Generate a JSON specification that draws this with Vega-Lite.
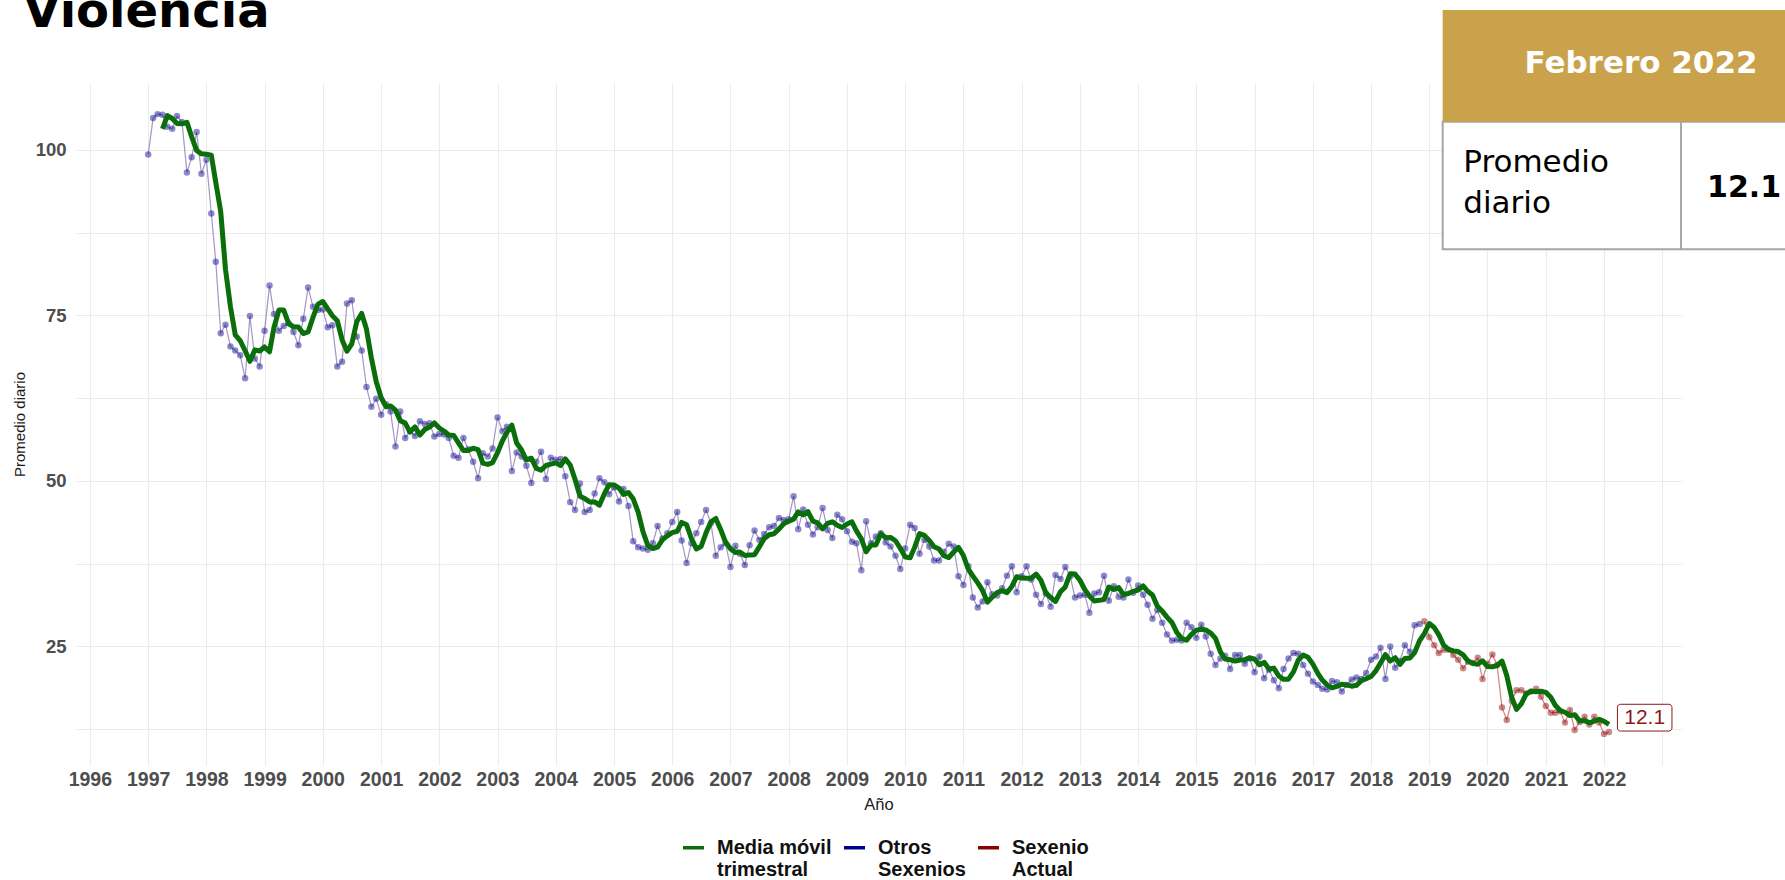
{
"$schema": "https://vega.github.io/schema/vega-lite/v6.json",
"width": 1607, "height": 682,
"autosize": {"type": "none"},
"padding": {"left": 75, "top": 83, "right": 103, "bottom": 115},
"background": "white",
"config": {"view": {"stroke": null}, "font": "Liberation Sans"},
"data": {"values": [
{"fecha":"1997-01-01","valor":99.3,"grupo":"Otros Sexenios"},{"fecha":"1997-02-01","valor":104.8,"grupo":"Otros Sexenios"},{"fecha":"1997-03-01","valor":105.4,"grupo":"Otros Sexenios"},{"fecha":"1997-04-01","valor":105.3,"grupo":"Otros Sexenios"},{"fecha":"1997-05-01","valor":103.5,"grupo":"Otros Sexenios"},{"fecha":"1997-06-01","valor":103.2,"grupo":"Otros Sexenios"},{"fecha":"1997-07-01","valor":105.1,"grupo":"Otros Sexenios"},{"fecha":"1997-08-01","valor":104.2,"grupo":"Otros Sexenios"},{"fecha":"1997-09-01","valor":96.6,"grupo":"Otros Sexenios"},{"fecha":"1997-10-01","valor":98.9,"grupo":"Otros Sexenios"},{"fecha":"1997-11-01","valor":102.7,"grupo":"Otros Sexenios"},{"fecha":"1997-12-01","valor":96.4,"grupo":"Otros Sexenios"},
{"fecha":"1998-01-01","valor":98.5,"grupo":"Otros Sexenios"},{"fecha":"1998-02-01","valor":90.4,"grupo":"Otros Sexenios"},{"fecha":"1998-03-01","valor":83.1,"grupo":"Otros Sexenios"},{"fecha":"1998-04-01","valor":72.3,"grupo":"Otros Sexenios"},{"fecha":"1998-05-01","valor":73.6,"grupo":"Otros Sexenios"},{"fecha":"1998-06-01","valor":70.3,"grupo":"Otros Sexenios"},{"fecha":"1998-07-01","valor":69.7,"grupo":"Otros Sexenios"},{"fecha":"1998-08-01","valor":69.0,"grupo":"Otros Sexenios"},{"fecha":"1998-09-01","valor":65.5,"grupo":"Otros Sexenios"},{"fecha":"1998-10-01","valor":74.9,"grupo":"Otros Sexenios"},{"fecha":"1998-11-01","valor":68.5,"grupo":"Otros Sexenios"},{"fecha":"1998-12-01","valor":67.3,"grupo":"Otros Sexenios"},
{"fecha":"1999-01-01","valor":72.7,"grupo":"Otros Sexenios"},{"fecha":"1999-02-01","valor":79.5,"grupo":"Otros Sexenios"},{"fecha":"1999-03-01","valor":75.2,"grupo":"Otros Sexenios"},{"fecha":"1999-04-01","valor":72.7,"grupo":"Otros Sexenios"},{"fecha":"1999-05-01","valor":73.4,"grupo":"Otros Sexenios"},{"fecha":"1999-06-01","valor":73.8,"grupo":"Otros Sexenios"},{"fecha":"1999-07-01","valor":72.5,"grupo":"Otros Sexenios"},{"fecha":"1999-08-01","valor":70.5,"grupo":"Otros Sexenios"},{"fecha":"1999-09-01","valor":74.5,"grupo":"Otros Sexenios"},{"fecha":"1999-10-01","valor":79.2,"grupo":"Otros Sexenios"},{"fecha":"1999-11-01","valor":76.3,"grupo":"Otros Sexenios"},{"fecha":"1999-12-01","valor":75.8,"grupo":"Otros Sexenios"},
{"fecha":"2000-01-01","valor":75.9,"grupo":"Otros Sexenios"},{"fecha":"2000-02-01","valor":73.2,"grupo":"Otros Sexenios"},{"fecha":"2000-03-01","valor":73.5,"grupo":"Otros Sexenios"},{"fecha":"2000-04-01","valor":67.3,"grupo":"Otros Sexenios"},{"fecha":"2000-05-01","valor":68.0,"grupo":"Otros Sexenios"},{"fecha":"2000-06-01","valor":76.8,"grupo":"Otros Sexenios"},{"fecha":"2000-07-01","valor":77.3,"grupo":"Otros Sexenios"},{"fecha":"2000-08-01","valor":71.8,"grupo":"Otros Sexenios"},{"fecha":"2000-09-01","valor":69.7,"grupo":"Otros Sexenios"},{"fecha":"2000-10-01","valor":64.2,"grupo":"Otros Sexenios"},{"fecha":"2000-11-01","valor":61.2,"grupo":"Otros Sexenios"},{"fecha":"2000-12-01","valor":62.4,"grupo":"Otros Sexenios"},
{"fecha":"2001-01-01","valor":60.0,"grupo":"Otros Sexenios"},{"fecha":"2001-02-01","valor":61.6,"grupo":"Otros Sexenios"},{"fecha":"2001-03-01","valor":60.5,"grupo":"Otros Sexenios"},{"fecha":"2001-04-01","valor":55.2,"grupo":"Otros Sexenios"},{"fecha":"2001-05-01","valor":60.5,"grupo":"Otros Sexenios"},{"fecha":"2001-06-01","valor":56.5,"grupo":"Otros Sexenios"},{"fecha":"2001-07-01","valor":57.5,"grupo":"Otros Sexenios"},{"fecha":"2001-08-01","valor":56.8,"grupo":"Otros Sexenios"},{"fecha":"2001-09-01","valor":59.0,"grupo":"Otros Sexenios"},{"fecha":"2001-10-01","valor":58.6,"grupo":"Otros Sexenios"},{"fecha":"2001-11-01","valor":58.7,"grupo":"Otros Sexenios"},{"fecha":"2001-12-01","valor":56.7,"grupo":"Otros Sexenios"},
{"fecha":"2002-01-01","valor":57.1,"grupo":"Otros Sexenios"},{"fecha":"2002-02-01","valor":57.0,"grupo":"Otros Sexenios"},{"fecha":"2002-03-01","valor":56.5,"grupo":"Otros Sexenios"},{"fecha":"2002-04-01","valor":53.8,"grupo":"Otros Sexenios"},{"fecha":"2002-05-01","valor":53.5,"grupo":"Otros Sexenios"},{"fecha":"2002-06-01","valor":56.5,"grupo":"Otros Sexenios"},{"fecha":"2002-07-01","valor":54.8,"grupo":"Otros Sexenios"},{"fecha":"2002-08-01","valor":52.9,"grupo":"Otros Sexenios"},{"fecha":"2002-09-01","valor":50.4,"grupo":"Otros Sexenios"},{"fecha":"2002-10-01","valor":54.2,"grupo":"Otros Sexenios"},{"fecha":"2002-11-01","valor":53.7,"grupo":"Otros Sexenios"},{"fecha":"2002-12-01","valor":54.9,"grupo":"Otros Sexenios"},
{"fecha":"2003-01-01","valor":59.6,"grupo":"Otros Sexenios"},{"fecha":"2003-02-01","valor":57.5,"grupo":"Otros Sexenios"},{"fecha":"2003-03-01","valor":58.2,"grupo":"Otros Sexenios"},{"fecha":"2003-04-01","valor":51.5,"grupo":"Otros Sexenios"},{"fecha":"2003-05-01","valor":54.3,"grupo":"Otros Sexenios"},{"fecha":"2003-06-01","valor":53.7,"grupo":"Otros Sexenios"},{"fecha":"2003-07-01","valor":52.3,"grupo":"Otros Sexenios"},{"fecha":"2003-08-01","valor":49.7,"grupo":"Otros Sexenios"},{"fecha":"2003-09-01","valor":52.9,"grupo":"Otros Sexenios"},{"fecha":"2003-10-01","valor":54.4,"grupo":"Otros Sexenios"},{"fecha":"2003-11-01","valor":50.3,"grupo":"Otros Sexenios"},{"fecha":"2003-12-01","valor":53.5,"grupo":"Otros Sexenios"},
{"fecha":"2004-01-01","valor":53.2,"grupo":"Otros Sexenios"},{"fecha":"2004-02-01","valor":53.3,"grupo":"Otros Sexenios"},{"fecha":"2004-03-01","valor":50.7,"grupo":"Otros Sexenios"},{"fecha":"2004-04-01","valor":46.8,"grupo":"Otros Sexenios"},{"fecha":"2004-05-01","valor":45.6,"grupo":"Otros Sexenios"},{"fecha":"2004-06-01","valor":49.6,"grupo":"Otros Sexenios"},{"fecha":"2004-07-01","valor":45.3,"grupo":"Otros Sexenios"},{"fecha":"2004-08-01","valor":45.6,"grupo":"Otros Sexenios"},{"fecha":"2004-09-01","valor":48.1,"grupo":"Otros Sexenios"},{"fecha":"2004-10-01","valor":50.4,"grupo":"Otros Sexenios"},{"fecha":"2004-11-01","valor":49.8,"grupo":"Otros Sexenios"},{"fecha":"2004-12-01","valor":48.0,"grupo":"Otros Sexenios"},
{"fecha":"2005-01-01","valor":49.0,"grupo":"Otros Sexenios"},{"fecha":"2005-02-01","valor":46.9,"grupo":"Otros Sexenios"},{"fecha":"2005-03-01","valor":48.8,"grupo":"Otros Sexenios"},{"fecha":"2005-04-01","valor":46.2,"grupo":"Otros Sexenios"},{"fecha":"2005-05-01","valor":40.9,"grupo":"Otros Sexenios"},{"fecha":"2005-06-01","valor":40.0,"grupo":"Otros Sexenios"},{"fecha":"2005-07-01","valor":39.8,"grupo":"Otros Sexenios"},{"fecha":"2005-08-01","valor":39.6,"grupo":"Otros Sexenios"},{"fecha":"2005-09-01","valor":40.6,"grupo":"Otros Sexenios"},{"fecha":"2005-10-01","valor":43.2,"grupo":"Otros Sexenios"},{"fecha":"2005-11-01","valor":41.3,"grupo":"Otros Sexenios"},{"fecha":"2005-12-01","valor":42.1,"grupo":"Otros Sexenios"},
{"fecha":"2006-01-01","valor":43.8,"grupo":"Otros Sexenios"},{"fecha":"2006-02-01","valor":45.3,"grupo":"Otros Sexenios"},{"fecha":"2006-03-01","valor":41.0,"grupo":"Otros Sexenios"},{"fecha":"2006-04-01","valor":37.6,"grupo":"Otros Sexenios"},{"fecha":"2006-05-01","valor":40.6,"grupo":"Otros Sexenios"},{"fecha":"2006-06-01","valor":42.1,"grupo":"Otros Sexenios"},{"fecha":"2006-07-01","valor":43.8,"grupo":"Otros Sexenios"},{"fecha":"2006-08-01","valor":45.6,"grupo":"Otros Sexenios"},{"fecha":"2006-09-01","valor":43.6,"grupo":"Otros Sexenios"},{"fecha":"2006-10-01","valor":38.7,"grupo":"Otros Sexenios"},{"fecha":"2006-11-01","valor":40.0,"grupo":"Otros Sexenios"},{"fecha":"2006-12-01","valor":40.6,"grupo":"Otros Sexenios"},
{"fecha":"2007-01-01","valor":37.0,"grupo":"Otros Sexenios"},{"fecha":"2007-02-01","valor":40.2,"grupo":"Otros Sexenios"},{"fecha":"2007-03-01","valor":39.0,"grupo":"Otros Sexenios"},{"fecha":"2007-04-01","valor":37.3,"grupo":"Otros Sexenios"},{"fecha":"2007-05-01","valor":40.3,"grupo":"Otros Sexenios"},{"fecha":"2007-06-01","valor":42.5,"grupo":"Otros Sexenios"},{"fecha":"2007-07-01","valor":41.1,"grupo":"Otros Sexenios"},{"fecha":"2007-08-01","valor":42.0,"grupo":"Otros Sexenios"},{"fecha":"2007-09-01","valor":43.0,"grupo":"Otros Sexenios"},{"fecha":"2007-10-01","valor":43.2,"grupo":"Otros Sexenios"},{"fecha":"2007-11-01","valor":44.4,"grupo":"Otros Sexenios"},{"fecha":"2007-12-01","valor":44.1,"grupo":"Otros Sexenios"},
{"fecha":"2008-01-01","valor":44.2,"grupo":"Otros Sexenios"},{"fecha":"2008-02-01","valor":47.7,"grupo":"Otros Sexenios"},{"fecha":"2008-03-01","valor":42.7,"grupo":"Otros Sexenios"},{"fecha":"2008-04-01","valor":45.7,"grupo":"Otros Sexenios"},{"fecha":"2008-05-01","valor":43.4,"grupo":"Otros Sexenios"},{"fecha":"2008-06-01","valor":41.9,"grupo":"Otros Sexenios"},{"fecha":"2008-07-01","valor":43.0,"grupo":"Otros Sexenios"},{"fecha":"2008-08-01","valor":45.9,"grupo":"Otros Sexenios"},{"fecha":"2008-09-01","valor":42.6,"grupo":"Otros Sexenios"},{"fecha":"2008-10-01","valor":41.4,"grupo":"Otros Sexenios"},{"fecha":"2008-11-01","valor":44.9,"grupo":"Otros Sexenios"},{"fecha":"2008-12-01","valor":44.2,"grupo":"Otros Sexenios"},
{"fecha":"2009-01-01","valor":42.4,"grupo":"Otros Sexenios"},{"fecha":"2009-02-01","valor":40.8,"grupo":"Otros Sexenios"},{"fecha":"2009-03-01","valor":40.6,"grupo":"Otros Sexenios"},{"fecha":"2009-04-01","valor":36.5,"grupo":"Otros Sexenios"},{"fecha":"2009-05-01","valor":43.9,"grupo":"Otros Sexenios"},{"fecha":"2009-06-01","valor":40.6,"grupo":"Otros Sexenios"},{"fecha":"2009-07-01","valor":41.6,"grupo":"Otros Sexenios"},{"fecha":"2009-08-01","valor":42.1,"grupo":"Otros Sexenios"},{"fecha":"2009-09-01","valor":40.7,"grupo":"Otros Sexenios"},{"fecha":"2009-10-01","valor":40.1,"grupo":"Otros Sexenios"},{"fecha":"2009-11-01","valor":38.7,"grupo":"Otros Sexenios"},{"fecha":"2009-12-01","valor":36.7,"grupo":"Otros Sexenios"},
{"fecha":"2010-01-01","valor":39.8,"grupo":"Otros Sexenios"},{"fecha":"2010-02-01","valor":43.4,"grupo":"Otros Sexenios"},{"fecha":"2010-03-01","valor":42.9,"grupo":"Otros Sexenios"},{"fecha":"2010-04-01","valor":39.0,"grupo":"Otros Sexenios"},{"fecha":"2010-05-01","valor":41.1,"grupo":"Otros Sexenios"},{"fecha":"2010-06-01","valor":40.1,"grupo":"Otros Sexenios"},{"fecha":"2010-07-01","valor":38.0,"grupo":"Otros Sexenios"},{"fecha":"2010-08-01","valor":38.0,"grupo":"Otros Sexenios"},{"fecha":"2010-09-01","valor":39.3,"grupo":"Otros Sexenios"},{"fecha":"2010-10-01","valor":40.5,"grupo":"Otros Sexenios"},{"fecha":"2010-11-01","valor":40.1,"grupo":"Otros Sexenios"},{"fecha":"2010-12-01","valor":35.6,"grupo":"Otros Sexenios"},
{"fecha":"2011-01-01","valor":34.3,"grupo":"Otros Sexenios"},{"fecha":"2011-02-01","valor":37.1,"grupo":"Otros Sexenios"},{"fecha":"2011-03-01","valor":32.4,"grupo":"Otros Sexenios"},{"fecha":"2011-04-01","valor":30.9,"grupo":"Otros Sexenios"},{"fecha":"2011-05-01","valor":31.8,"grupo":"Otros Sexenios"},{"fecha":"2011-06-01","valor":34.7,"grupo":"Otros Sexenios"},{"fecha":"2011-07-01","valor":32.9,"grupo":"Otros Sexenios"},{"fecha":"2011-08-01","valor":32.7,"grupo":"Otros Sexenios"},{"fecha":"2011-09-01","valor":33.8,"grupo":"Otros Sexenios"},{"fecha":"2011-10-01","valor":35.7,"grupo":"Otros Sexenios"},{"fecha":"2011-11-01","valor":37.1,"grupo":"Otros Sexenios"},{"fecha":"2011-12-01","valor":33.2,"grupo":"Otros Sexenios"},
{"fecha":"2012-01-01","valor":35.6,"grupo":"Otros Sexenios"},{"fecha":"2012-02-01","valor":37.1,"grupo":"Otros Sexenios"},{"fecha":"2012-03-01","valor":35.1,"grupo":"Otros Sexenios"},{"fecha":"2012-04-01","valor":32.8,"grupo":"Otros Sexenios"},{"fecha":"2012-05-01","valor":31.4,"grupo":"Otros Sexenios"},{"fecha":"2012-06-01","valor":33.0,"grupo":"Otros Sexenios"},{"fecha":"2012-07-01","valor":31.0,"grupo":"Otros Sexenios"},{"fecha":"2012-08-01","valor":35.8,"grupo":"Otros Sexenios"},{"fecha":"2012-09-01","valor":35.2,"grupo":"Otros Sexenios"},{"fecha":"2012-10-01","valor":37.0,"grupo":"Otros Sexenios"},{"fecha":"2012-11-01","valor":35.6,"grupo":"Otros Sexenios"},{"fecha":"2012-12-01","valor":32.4,"grupo":"Otros Sexenios"},
{"fecha":"2013-01-01","valor":32.7,"grupo":"Otros Sexenios"},{"fecha":"2013-02-01","valor":32.8,"grupo":"Otros Sexenios"},{"fecha":"2013-03-01","valor":30.1,"grupo":"Otros Sexenios"},{"fecha":"2013-04-01","valor":33.0,"grupo":"Otros Sexenios"},{"fecha":"2013-05-01","valor":33.2,"grupo":"Otros Sexenios"},{"fecha":"2013-06-01","valor":35.7,"grupo":"Otros Sexenios"},{"fecha":"2013-07-01","valor":31.9,"grupo":"Otros Sexenios"},{"fecha":"2013-08-01","valor":34.1,"grupo":"Otros Sexenios"},{"fecha":"2013-09-01","valor":32.5,"grupo":"Otros Sexenios"},{"fecha":"2013-10-01","valor":32.4,"grupo":"Otros Sexenios"},{"fecha":"2013-11-01","valor":35.1,"grupo":"Otros Sexenios"},{"fecha":"2013-12-01","valor":33.1,"grupo":"Otros Sexenios"},
{"fecha":"2014-01-01","valor":34.2,"grupo":"Otros Sexenios"},{"fecha":"2014-02-01","valor":32.8,"grupo":"Otros Sexenios"},{"fecha":"2014-03-01","valor":31.3,"grupo":"Otros Sexenios"},{"fecha":"2014-04-01","valor":29.2,"grupo":"Otros Sexenios"},{"fecha":"2014-05-01","valor":30.5,"grupo":"Otros Sexenios"},{"fecha":"2014-06-01","valor":28.6,"grupo":"Otros Sexenios"},{"fecha":"2014-07-01","valor":26.8,"grupo":"Otros Sexenios"},{"fecha":"2014-08-01","valor":25.9,"grupo":"Otros Sexenios"},{"fecha":"2014-09-01","valor":26.0,"grupo":"Otros Sexenios"},{"fecha":"2014-10-01","valor":25.9,"grupo":"Otros Sexenios"},{"fecha":"2014-11-01","valor":28.6,"grupo":"Otros Sexenios"},{"fecha":"2014-12-01","valor":27.9,"grupo":"Otros Sexenios"},
{"fecha":"2015-01-01","valor":26.3,"grupo":"Otros Sexenios"},{"fecha":"2015-02-01","valor":28.3,"grupo":"Otros Sexenios"},{"fecha":"2015-03-01","valor":26.5,"grupo":"Otros Sexenios"},{"fecha":"2015-04-01","valor":23.9,"grupo":"Otros Sexenios"},{"fecha":"2015-05-01","valor":22.2,"grupo":"Otros Sexenios"},{"fecha":"2015-06-01","valor":23.2,"grupo":"Otros Sexenios"},{"fecha":"2015-07-01","valor":23.6,"grupo":"Otros Sexenios"},{"fecha":"2015-08-01","valor":21.6,"grupo":"Otros Sexenios"},{"fecha":"2015-09-01","valor":23.7,"grupo":"Otros Sexenios"},{"fecha":"2015-10-01","valor":23.7,"grupo":"Otros Sexenios"},{"fecha":"2015-11-01","valor":22.4,"grupo":"Otros Sexenios"},{"fecha":"2015-12-01","valor":23.2,"grupo":"Otros Sexenios"},
{"fecha":"2016-01-01","valor":21.1,"grupo":"Otros Sexenios"},{"fecha":"2016-02-01","valor":23.5,"grupo":"Otros Sexenios"},{"fecha":"2016-03-01","valor":20.2,"grupo":"Otros Sexenios"},{"fecha":"2016-04-01","valor":21.5,"grupo":"Otros Sexenios"},{"fecha":"2016-05-01","valor":19.9,"grupo":"Otros Sexenios"},{"fecha":"2016-06-01","valor":18.7,"grupo":"Otros Sexenios"},{"fecha":"2016-07-01","valor":21.6,"grupo":"Otros Sexenios"},{"fecha":"2016-08-01","valor":23.2,"grupo":"Otros Sexenios"},{"fecha":"2016-09-01","valor":24.0,"grupo":"Otros Sexenios"},{"fecha":"2016-10-01","valor":23.9,"grupo":"Otros Sexenios"},{"fecha":"2016-11-01","valor":22.2,"grupo":"Otros Sexenios"},{"fecha":"2016-12-01","valor":20.9,"grupo":"Otros Sexenios"},
{"fecha":"2017-01-01","valor":19.7,"grupo":"Otros Sexenios"},{"fecha":"2017-02-01","valor":19.2,"grupo":"Otros Sexenios"},{"fecha":"2017-03-01","valor":18.6,"grupo":"Otros Sexenios"},{"fecha":"2017-04-01","valor":18.5,"grupo":"Otros Sexenios"},{"fecha":"2017-05-01","valor":19.8,"grupo":"Otros Sexenios"},{"fecha":"2017-06-01","valor":19.6,"grupo":"Otros Sexenios"},{"fecha":"2017-07-01","valor":18.2,"grupo":"Otros Sexenios"},{"fecha":"2017-08-01","valor":19.2,"grupo":"Otros Sexenios"},{"fecha":"2017-09-01","valor":20.0,"grupo":"Otros Sexenios"},{"fecha":"2017-10-01","valor":20.3,"grupo":"Otros Sexenios"},{"fecha":"2017-11-01","valor":20.1,"grupo":"Otros Sexenios"},{"fecha":"2017-12-01","valor":21.0,"grupo":"Otros Sexenios"},
{"fecha":"2018-01-01","valor":23.0,"grupo":"Otros Sexenios"},{"fecha":"2018-02-01","valor":23.5,"grupo":"Otros Sexenios"},{"fecha":"2018-03-01","valor":24.8,"grupo":"Otros Sexenios"},{"fecha":"2018-04-01","valor":20.1,"grupo":"Otros Sexenios"},{"fecha":"2018-05-01","valor":25.0,"grupo":"Otros Sexenios"},{"fecha":"2018-06-01","valor":21.8,"grupo":"Otros Sexenios"},{"fecha":"2018-07-01","valor":22.8,"grupo":"Otros Sexenios"},{"fecha":"2018-08-01","valor":25.2,"grupo":"Otros Sexenios"},{"fecha":"2018-09-01","valor":24.2,"grupo":"Otros Sexenios"},{"fecha":"2018-10-01","valor":28.2,"grupo":"Otros Sexenios"},{"fecha":"2018-11-01","valor":28.4,"grupo":"Otros Sexenios"},{"fecha":"2018-12-01","valor":28.8,"grupo":"Sexenio Actual"},
{"fecha":"2019-01-01","valor":26.4,"grupo":"Sexenio Actual"},{"fecha":"2019-02-01","valor":25.2,"grupo":"Sexenio Actual"},{"fecha":"2019-03-01","valor":24.0,"grupo":"Sexenio Actual"},{"fecha":"2019-04-01","valor":24.5,"grupo":"Sexenio Actual"},{"fecha":"2019-05-01","valor":24.5,"grupo":"Sexenio Actual"},{"fecha":"2019-06-01","valor":23.7,"grupo":"Sexenio Actual"},{"fecha":"2019-07-01","valor":23.0,"grupo":"Sexenio Actual"},{"fecha":"2019-08-01","valor":21.7,"grupo":"Sexenio Actual"},{"fecha":"2019-09-01","valor":22.7,"grupo":"Sexenio Actual"},{"fecha":"2019-10-01","valor":22.5,"grupo":"Sexenio Actual"},{"fecha":"2019-11-01","valor":23.3,"grupo":"Sexenio Actual"},{"fecha":"2019-12-01","valor":20.1,"grupo":"Sexenio Actual"},
{"fecha":"2020-01-01","valor":22.4,"grupo":"Sexenio Actual"},{"fecha":"2020-02-01","valor":23.8,"grupo":"Sexenio Actual"},{"fecha":"2020-03-01","valor":22.2,"grupo":"Sexenio Actual"},{"fecha":"2020-04-01","valor":15.8,"grupo":"Sexenio Actual"},{"fecha":"2020-05-01","valor":13.9,"grupo":"Sexenio Actual"},{"fecha":"2020-06-01","valor":16.8,"grupo":"Sexenio Actual"},{"fecha":"2020-07-01","valor":18.4,"grupo":"Sexenio Actual"},{"fecha":"2020-08-01","valor":18.4,"grupo":"Sexenio Actual"},{"fecha":"2020-09-01","valor":17.9,"grupo":"Sexenio Actual"},{"fecha":"2020-10-01","valor":18.2,"grupo":"Sexenio Actual"},{"fecha":"2020-11-01","valor":18.6,"grupo":"Sexenio Actual"},{"fecha":"2020-12-01","valor":17.4,"grupo":"Sexenio Actual"},
{"fecha":"2021-01-01","valor":16.0,"grupo":"Sexenio Actual"},{"fecha":"2021-02-01","valor":15.0,"grupo":"Sexenio Actual"},{"fecha":"2021-03-01","valor":15.0,"grupo":"Sexenio Actual"},{"fecha":"2021-04-01","valor":15.2,"grupo":"Sexenio Actual"},{"fecha":"2021-05-01","valor":13.5,"grupo":"Sexenio Actual"},{"fecha":"2021-06-01","valor":15.4,"grupo":"Sexenio Actual"},{"fecha":"2021-07-01","valor":12.4,"grupo":"Sexenio Actual"},{"fecha":"2021-08-01","valor":13.6,"grupo":"Sexenio Actual"},{"fecha":"2021-09-01","valor":14.4,"grupo":"Sexenio Actual"},{"fecha":"2021-10-01","valor":13.2,"grupo":"Sexenio Actual"},{"fecha":"2021-11-01","valor":14.4,"grupo":"Sexenio Actual"},{"fecha":"2021-12-01","valor":13.5,"grupo":"Sexenio Actual"},
{"fecha":"2022-01-01","valor":11.8,"grupo":"Sexenio Actual"},{"fecha":"2022-02-01","valor":12.1,"grupo":"Sexenio Actual"}
]},
"layer": [
{"transform": [{"filter": "datum.grupo == 'Otros Sexenios'"}],
 "mark": {"type": "line", "color": "#6a4c9c", "opacity": 0.6, "strokeWidth": 1.2},
 "encoding": {
  "x": {"field": "fecha", "type": "temporal", "title": "Año",
   "scale": {"type": "utc", "domain": [{"year":1995,"month":9,"date":30,"utc":true},{"year":2023,"month":5,"date":5,"utc":true}]},
   "axis": {"values": [{"year":1996,"month":1,"date":1,"utc":true},{"year":1996,"month":7,"date":2,"utc":true},{"year":1997,"month":1,"date":1,"utc":true},{"year":1997,"month":7,"date":2,"utc":true},{"year":1998,"month":1,"date":1,"utc":true},{"year":1998,"month":7,"date":2,"utc":true},{"year":1999,"month":1,"date":1,"utc":true},{"year":1999,"month":7,"date":2,"utc":true},{"year":2000,"month":1,"date":1,"utc":true},{"year":2000,"month":7,"date":2,"utc":true},{"year":2001,"month":1,"date":1,"utc":true},{"year":2001,"month":7,"date":2,"utc":true},{"year":2002,"month":1,"date":1,"utc":true},{"year":2002,"month":7,"date":2,"utc":true},{"year":2003,"month":1,"date":1,"utc":true},{"year":2003,"month":7,"date":2,"utc":true},{"year":2004,"month":1,"date":1,"utc":true},{"year":2004,"month":7,"date":2,"utc":true},{"year":2005,"month":1,"date":1,"utc":true},{"year":2005,"month":7,"date":2,"utc":true},{"year":2006,"month":1,"date":1,"utc":true},{"year":2006,"month":7,"date":2,"utc":true},{"year":2007,"month":1,"date":1,"utc":true},{"year":2007,"month":7,"date":2,"utc":true},{"year":2008,"month":1,"date":1,"utc":true},{"year":2008,"month":7,"date":2,"utc":true},{"year":2009,"month":1,"date":1,"utc":true},{"year":2009,"month":7,"date":2,"utc":true},{"year":2010,"month":1,"date":1,"utc":true},{"year":2010,"month":7,"date":2,"utc":true},{"year":2011,"month":1,"date":1,"utc":true},{"year":2011,"month":7,"date":2,"utc":true},{"year":2012,"month":1,"date":1,"utc":true},{"year":2012,"month":7,"date":2,"utc":true},{"year":2013,"month":1,"date":1,"utc":true},{"year":2013,"month":7,"date":2,"utc":true},{"year":2014,"month":1,"date":1,"utc":true},{"year":2014,"month":7,"date":2,"utc":true},{"year":2015,"month":1,"date":1,"utc":true},{"year":2015,"month":7,"date":2,"utc":true},{"year":2016,"month":1,"date":1,"utc":true},{"year":2016,"month":7,"date":2,"utc":true},{"year":2017,"month":1,"date":1,"utc":true},{"year":2017,"month":7,"date":2,"utc":true},{"year":2018,"month":1,"date":1,"utc":true},{"year":2018,"month":7,"date":2,"utc":true},{"year":2019,"month":1,"date":1,"utc":true},{"year":2019,"month":7,"date":2,"utc":true},{"year":2020,"month":1,"date":1,"utc":true},{"year":2020,"month":7,"date":2,"utc":true},{"year":2021,"month":1,"date":1,"utc":true},{"year":2021,"month":7,"date":2,"utc":true},{"year":2022,"month":1,"date":1,"utc":true},{"year":2022,"month":7,"date":2,"utc":true},{"year":2023,"month":1,"date":1,"utc":true}],
    "labelExpr": "utcmonth(datum.value) == 0 && utcyear(datum.value) <= 2022 ? '' + utcyear(datum.value) : ''",
    "grid": true, "gridColor": "#ebebeb", "gridWidth": 1.1, "ticks": false, "domain": false,
    "labelFont": "Liberation Sans", "labelFontWeight": "bold", "labelFontSize": 19.5, "labelColor": "#4d4d4d",
    "labelPadding": 5.5, "labelOverlap": false, "labelFlush": false, "labelBound": false,
    "titleFont": "Liberation Sans", "titleFontSize": 16.5, "titleFontWeight": "normal", "titleColor": "#1a1a1a", "titlePadding": 7}},
  "y": {"field": "valor", "type": "quantitative", "title": "Promedio diario",
   "scale": {"domain": [7.1, 110.1], "nice": false, "zero": false},
   "axis": {"values": [12.5, 25, 37.5, 50, 62.5, 75, 87.5, 100],
    "labelExpr": "datum.value % 25 == 0 ? datum.label : ''",
    "grid": true, "gridColor": "#ebebeb", "gridWidth": 1.1, "ticks": false, "domain": false,
    "labelFont": "Liberation Sans", "labelFontWeight": "bold", "labelFontSize": 18.5, "labelColor": "#4d4d4d", "labelPadding": 9,
    "titleFont": "Liberation Sans", "titleFontSize": 15, "titleFontWeight": "normal", "titleColor": "#1a1a1a", "titlePadding": 8}}
 }},
{"transform": [{"filter": "datum.grupo == 'Sexenio Actual'"}],
 "mark": {"type": "line", "color": "#b03030", "opacity": 0.6, "strokeWidth": 1.2},
 "encoding": {
  "x": {"field": "fecha", "type": "temporal", "title": "Año"},
  "y": {"field": "valor", "type": "quantitative", "title": "Promedio diario"}
 }},
{"mark": {"type": "point", "filled": true, "size": 42, "opacity": 0.45},
 "encoding": {
  "x": {"field": "fecha", "type": "temporal", "title": "Año"},
  "y": {"field": "valor", "type": "quantitative", "title": "Promedio diario"},
  "color": {"field": "grupo", "type": "nominal",
   "scale": {"domain": ["Media móvil trimestral", "Otros Sexenios", "Sexenio Actual"], "range": ["#0a6e0a", "#00008b", "#8b0000"]},
   "legend": {"title": null, "orient": "none", "legendX": 606, "legendY": 752, "direction": "horizontal",
    "symbolType": "stroke", "symbolStrokeWidth": 3.5, "symbolSize": 441, "symbolOpacity": 1,
    "labelFont": "Liberation Sans", "labelFontWeight": "bold", "labelFontSize": 20, "labelColor": "#111111",
    "labelLimit": 0, "labelOffset": 11, "columnPadding": 5, "padding": 0,
    "labelExpr": "datum.label == 'Media móvil trimestral' ? ['Media móvil', 'trimestral'] : datum.label == 'Otros Sexenios' ? ['Otros', 'Sexenios'] : ['Sexenio', 'Actual']"}}
 }},
{"transform": [
  {"window": [{"op": "mean", "field": "valor", "as": "m3"}, {"op": "count", "as": "n"}], "frame": [-2, 0], "sort": [{"field": "fecha"}]},
  {"window": [{"op": "lag", "field": "m3", "as": "media"}, {"op": "lag", "field": "n", "as": "nprev"}], "sort": [{"field": "fecha"}]},
  {"filter": "datum.nprev >= 3"}],
 "mark": {"type": "line", "strokeWidth": 5, "strokeJoin": "round"},
 "encoding": {
  "x": {"field": "fecha", "type": "temporal", "title": "Año"},
  "y": {"field": "media", "type": "quantitative", "title": "Promedio diario"},
  "color": {"datum": "Media móvil trimestral"}
 }},
{"data": {"values": [{}]},
 "mark": {"type": "rect", "fill": "white", "stroke": "#8b1a1a", "strokeWidth": 1, "cornerRadius": 3},
 "encoding": {
  "x": {"datum": {"year":2022,"month":3,"date":26,"utc":true}, "type": "temporal"},
  "x2": {"datum": {"year":2023,"month":3,"date":3,"utc":true}},
  "y": {"datum": 16.27, "type": "quantitative"},
  "y2": {"datum": 12.23}
 }},
{"data": {"values": [{}]},
 "mark": {"type": "text", "text": "12.1", "font": "Liberation Sans", "fontSize": 21, "color": "#8b1a1a", "align": "center", "baseline": "middle"},
 "encoding": {
  "x": {"datum": {"year":2022,"month":9,"date":13,"utc":true}, "type": "temporal"},
  "y": {"datum": 14.25, "type": "quantitative"}
 }},
{"data": {"values": [{}]},
 "mark": {"type": "text", "text": "Violencia", "font": "DejaVu Sans", "fontWeight": "bold", "fontSize": 48, "color": "#000000", "align": "left", "baseline": "alphabetic"},
 "encoding": {
  "x": {"datum": {"year":1994,"month":11,"date":10,"utc":true}, "type": "temporal"},
  "y": {"datum": 118.5, "type": "quantitative"}
 }},
{"data": {"values": [{}]},
 "mark": {"type": "rect", "fill": "white", "stroke": "#a6a6a6", "strokeWidth": 2},
 "encoding": {
  "x": {"datum": {"year":2019,"month":3,"date":26,"utc":true}, "type": "temporal"},
  "x2": {"datum": {"year":2025,"month":5,"date":15,"utc":true}},
  "y": {"datum": 104.26, "type": "quantitative"},
  "y2": {"datum": 84.99}
 }},
{"data": {"values": [{}]},
 "mark": {"type": "rect", "fill": "#c9a24b"},
 "encoding": {
  "x": {"datum": {"year":2019,"month":3,"date":26,"utc":true}, "type": "temporal"},
  "x2": {"datum": {"year":2025,"month":5,"date":15,"utc":true}},
  "y": {"datum": 121.13, "type": "quantitative"},
  "y2": {"datum": 104.26}
 }},
{"data": {"values": [{}]},
 "mark": {"type": "rule", "color": "#a6a6a6", "strokeWidth": 2},
 "encoding": {
  "x": {"datum": {"year":2023,"month":4,"date":29,"utc":true}, "type": "temporal"},
  "y": {"datum": 104.26, "type": "quantitative"},
  "y2": {"datum": 84.99}
 }},
{"data": {"values": [{}]},
 "mark": {"type": "text", "text": "Febrero 2022", "font": "DejaVu Sans", "fontWeight": "bold", "fontSize": 31, "color": "white", "align": "center", "baseline": "alphabetic"},
 "encoding": {
  "x": {"datum": {"year":2022,"month":8,"date":21,"utc":true}, "type": "temporal"},
  "y": {"datum": 111.57, "type": "quantitative"}
 }},
{"data": {"values": [{}]},
 "mark": {"type": "text", "text": "Promedio", "font": "DejaVu Sans", "fontSize": 31, "color": "black", "align": "left", "baseline": "alphabetic"},
 "encoding": {
  "x": {"datum": {"year":2019,"month":8,"date":2,"utc":true}, "type": "temporal"},
  "y": {"datum": 96.70, "type": "quantitative"}
 }},
{"data": {"values": [{}]},
 "mark": {"type": "text", "text": "diario", "font": "DejaVu Sans", "fontSize": 31, "color": "black", "align": "left", "baseline": "alphabetic"},
 "encoding": {
  "x": {"datum": {"year":2019,"month":8,"date":2,"utc":true}, "type": "temporal"},
  "y": {"datum": 90.47, "type": "quantitative"}
 }},
{"data": {"values": [{}]},
 "mark": {"type": "text", "text": "12.1", "font": "DejaVu Sans", "fontWeight": "bold", "fontSize": 30, "color": "black", "align": "center", "baseline": "alphabetic"},
 "encoding": {
  "x": {"datum": {"year":2024,"month":5,"date":28,"utc":true}, "type": "temporal"},
  "y": {"datum": 92.93, "type": "quantitative"}
 }}
]
}
